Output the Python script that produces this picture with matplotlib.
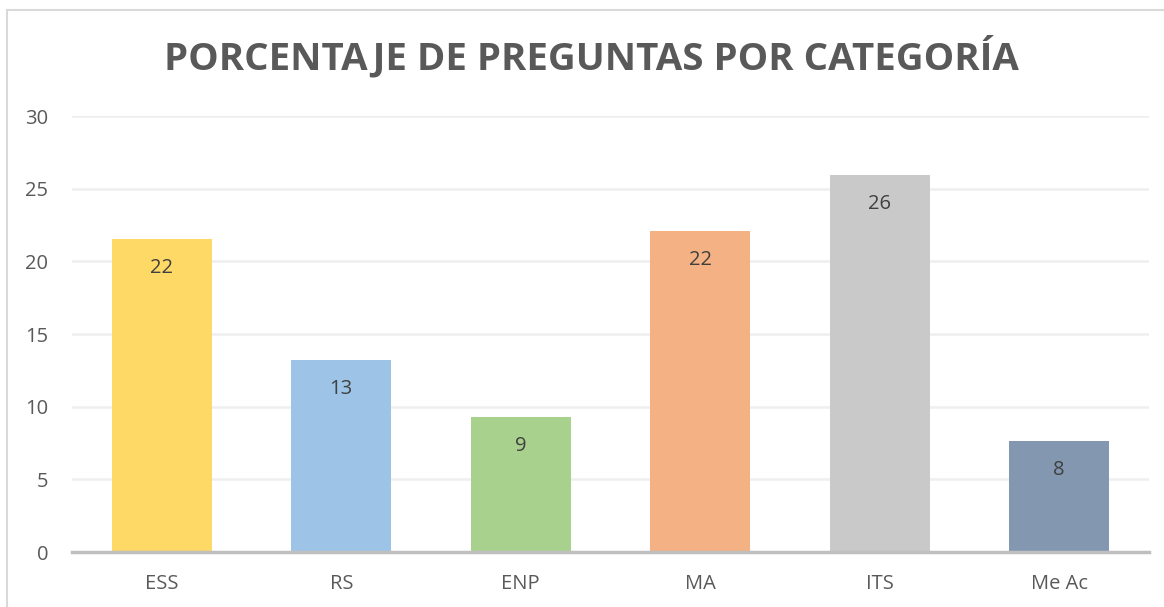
import matplotlib
matplotlib.use("Agg")
import matplotlib.pyplot as plt
from matplotlib.patches import Rectangle

categories = ["ESS", "RS", "ENP", "MA", "ITS", "Me Ac"]
values = [21.55, 13.2, 9.3, 22.1, 25.95, 7.65]
bar_colors = ["#FFD966", "#9DC3E6", "#A9D18E", "#F4B183", "#C9C9C9", "#8497B0"]
yticks = [0, 5, 10, 15, 20, 25, 30]
title = "PORCENTAJE DE PREGUNTAS POR CATEGORÍA"

plt.rcParams['font.family'] = ['Open Sans', 'DejaVu Sans']

W, H = 1164, 607
fig = plt.figure(figsize=(W / 100, H / 100), dpi=100)

# chart border
fig.patches.append(Rectangle((7 / W, -0.01), 1.2, 1 - 10 / H + 0.01, transform=fig.transFigure,
                             fill=False, edgecolor="#D9D9D9", linewidth=1.5))

left, right = 72 / W, 1149 / W
bottom, top = 1 - 552 / H, 1 - 116 / H
ax = fig.add_axes([left, bottom, right - left, top - bottom])

x = list(range(len(categories)))
bars = ax.bar(x, values, width=0.557, color=bar_colors, zorder=3)
ax.set_xlim(-0.5, len(categories) - 0.5)
ax.set_ylim(0, 30)
ax.set_yticks(yticks)
ax.set_xticks(x)
ax.set_xticklabels(categories)

ax.grid(axis="y", color="#EFEFEF", linewidth=1.8, zorder=0)
for s in ["top", "right", "left"]:
    ax.spines[s].set_visible(False)
ax.spines["bottom"].set_color("#BFBFBF")
ax.spines["bottom"].set_linewidth(2.5)
ax.spines["bottom"].set_zorder(4)
ax.tick_params(axis="both", length=0, labelsize=14.5, colors="#595959")
ax.tick_params(axis="x", pad=16)
ax.tick_params(axis="y", pad=17)

for xi, v in zip(x, values):
    ax.annotate(f"{round(v):d}", (xi, v), xytext=(0, -21), textcoords="offset points",
                ha="center", va="center", fontsize=14.5, color="#404040", zorder=5)

fig.text(591 / W, 1 - 57 / H, title, ha="center", va="center", fontsize=27.6,
         fontweight="bold", color="#595959")

fig.savefig("out.png", dpi=100)
